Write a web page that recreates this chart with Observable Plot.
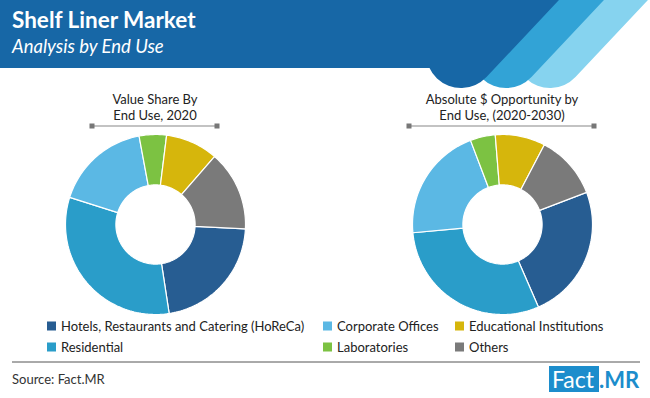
<!DOCTYPE html>
<html><head><meta charset="utf-8">
<script src="https://cdn.jsdelivr.net/npm/d3@7"></script>
<script src="https://cdn.jsdelivr.net/npm/@observablehq/plot@0.6"></script>
<style>
body{margin:0;background:#fff;}
#root{position:relative;width:650px;height:398px;overflow:hidden;font-family:Lato,"Open Sans",sans-serif;}
#deco{position:absolute;left:0;top:0;}
.donut{position:absolute;top:129px;}
</style></head><body>
<div id="root"></div>
<script>
// ---- data ----
const categories = ["Hotels, Restaurants and Catering (HoReCa)", "Residential", "Corporate Offices", "Laboratories", "Educational Institutions", "Others"];
const colors = ["#275d92", "#2a9dc9", "#5bb8e4", "#7cc242", "#d6b60c", "#7a7a7a"];
const share2020 = [21.8, 32.3, 17.2, 4.9, 9.4, 14.4];
const opportunity2030 = [24.3, 30.1, 20.7, 4.5, 9.0, 11.5];
const startAngles = [92.8, 69.1];
const chartTitles = [["Value Share By", "End Use, 2020"], ["Absolute $ Opportunity by", "End Use, (2020-2030)"]];
const legendOrder = ["Hotels, Restaurants and Catering (HoReCa)", "Corporate Offices", "Educational Institutions", "Residential", "Laboratories", "Others"];
const title = "Shelf Liner Market";
const subtitle = "Analysis by End Use";
const source = "Source: Fact.MR";

const root = document.getElementById("root");
const NS = "http://www.w3.org/2000/svg";
const svg = document.createElementNS(NS, "svg");
svg.setAttribute("id", "deco");
svg.setAttribute("width", 650);
svg.setAttribute("height", 398);
root.appendChild(svg);
function el(tag, attrs, text) {
  const e = document.createElementNS(NS, tag);
  for (const k in attrs) e.setAttribute(k, attrs[k]);
  if (text != null) e.textContent = text;
  svg.appendChild(e);
  return e;
}
// header band with slanted stripes
const dirx = 80, diry = -85;
[["#86d3ef", 550], ["#32a3d6", 506], ["#1767a6", 461]].forEach(([c, cx]) => {
  el("line", {x1: cx, y1: 53, x2: cx + dirx * 1.4, y2: 53 + diry * 1.4, stroke: c, "stroke-width": 70, "stroke-linecap": "round"});
});
el("rect", {x: 0, y: 0, width: 470, height: 68, fill: "#1767a6"});
el("text", {x: 12, y: 28, fill: "#fff", "font-size": 22.5, "font-weight": 700}, title);
el("text", {x: 12, y: 53, fill: "#fff", "font-size": 18.5, "font-style": "italic"}, subtitle);

// donut titles + brackets
const centers = [155, 502];
const brackets = [[92, 217], [409, 594]];
chartTitles.forEach((lines, i) => {
  lines.forEach((t, j) => el("text", {x: centers[i], y: 104 + j * 16, "text-anchor": "middle", "font-size": 13, fill: "#222"}, t));
  const [a, b] = brackets[i];
  el("line", {x1: a, x2: b, y1: 126, y2: 126, stroke: "#888", "stroke-width": 1.2});
  el("rect", {x: a - 2.5, y: 123.5, width: 5, height: 5, fill: "#777"});
  el("rect", {x: b - 2.5, y: 123.5, width: 5, height: 5, fill: "#777"});
});

// legend
const colX = [47, 323, 455];
const rowY = [326, 347];
legendOrder.forEach((c, k) => {
  const col = k % 3, row = Math.floor(k / 3);
  el("rect", {x: colX[col], y: rowY[row] - 4.5, width: 9, height: 9, fill: colors[categories.indexOf(c)]});
  el("text", {x: colX[col] + 14, y: rowY[row] + 4.5, "font-size": 13, fill: "#222"}, c);
});

// footer
el("line", {x1: 12, x2: 640, y1: 362, y2: 362, stroke: "#555", "stroke-width": 1});
el("text", {x: 12, y: 384, "font-size": 13, fill: "#333"}, source);
el("rect", {x: 549, y: 366, width: 50, height: 26, fill: "#1c8dcc"});
el("text", {x: 552, y: 388, "font-size": 23, fill: "#fff"}, "Fact");
el("text", {x: 599, y: 388, "font-size": 22, "font-weight": 700, fill: "#1c8dcc"}, ".MR");

// donuts via Plot
function donut(values, startDeg) {
  const s = startDeg * Math.PI / 180;
  const arcs = d3.pie().sort(null).value(d => d.v).startAngle(s).endAngle(s + 2 * Math.PI)(categories.map((c, i) => ({c, v: values[i]})));
  const R = 1, r = 0.44, pts = [];
  arcs.forEach(a => {
    const n = Math.max(2, Math.ceil((a.endAngle - a.startAngle) / (Math.PI / 120)));
    for (let k = 0; k <= n; k++) { const t = a.startAngle + (a.endAngle - a.startAngle) * k / n; pts.push({c: a.data.c, x: R * Math.sin(t), y: R * Math.cos(t)}); }
    for (let k = n; k >= 0; k--) { const t = a.startAngle + (a.endAngle - a.startAngle) * k / n; pts.push({c: a.data.c, x: r * Math.sin(t), y: r * Math.cos(t)}); }
  });
  return Plot.plot({
    width: 190, height: 190, margin: 5,
    x: {domain: [-1, 1], axis: null}, y: {domain: [-1, 1], axis: null},
    color: {domain: categories, range: colors},
    marks: [Plot.line(pts, {x: "x", y: "y", z: "c", fill: "c", stroke: "white", strokeWidth: 1.2, curve: "linear-closed"})]
  });
}
[share2020, opportunity2030].forEach((vals, i) => {
  const p = donut(vals, startAngles[i]);
  p.classList.add("donut");
  p.style.left = (centers[i] - 95) + "px";
  root.appendChild(p);
});
</script>
</body></html>
